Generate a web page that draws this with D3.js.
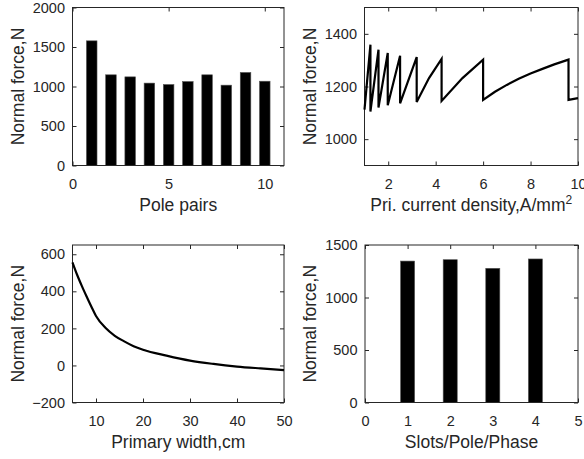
<!DOCTYPE html>
<html>
<head>
<meta charset="utf-8">
<script src="https://cdn.jsdelivr.net/npm/d3@7"></script>
<style>
  body { margin: 0; background: #fff; }
  svg { display: block; font-family: "Liberation Sans", Arial, sans-serif; }
</style>
</head>
<body>
<svg id="fig" width="584" height="459"></svg>
<script>
let axis_color = '#262626';

// (a) pole pairs
let pole_pairs = [1, 2, 3, 4, 5, 6, 7, 8, 9, 10];
let pole_force = [1578, 1148, 1122, 1043, 1025, 1063, 1148, 1017, 1178, 1067];

// (b) primary current density, sawtooth (drops share the same x)
let density_x = [1.0, 1.25, 1.25, 1.59, 1.59, 1.98, 1.98, 2.5, 2.5, 3.2, 3.2, 3.72, 4.25,
  4.25, 5.13, 6.0, 6.0, 6.5, 7.0, 7.5, 8.0, 8.5, 9.0, 9.6, 9.6, 10.0];
let density_force = [1112, 1359, 1105, 1340, 1120, 1327, 1129, 1317, 1136, 1312, 1141, 1232, 1305,
  1145, 1232, 1302, 1149, 1180, 1206, 1229, 1249, 1267, 1284, 1302, 1149, 1156];

// (c) primary width
let width_cm = [5, 6, 7, 8, 9, 10, 12, 14, 16, 18, 20, 25, 30, 35, 40, 45, 50];
let width_force = [556, 488, 428, 372, 318, 267, 203, 160, 130, 104, 85, 53, 26, 8, -6, -16, -25];

// (d) slots per pole per phase
let slots = [1, 2, 3, 4];
let slots_force = [1347, 1360, 1278, 1367];

let svg = d3.select('#fig');
let fmt = d3.format('d');

function make_panel(box, x_domain, y_domain, x_ticks, y_ticks, x_label, y_label) {
  let x = d3.scaleLinear().domain(x_domain).range([box.left, box.right]);
  let y = d3.scaleLinear().domain(y_domain).range([box.bottom, box.top]);
  let g = svg.append('g');

  let tick_font = 14.5;
  // bottom and left with labels, inward ticks
  g.append('g')
    .attr('transform', `translate(0, ${box.bottom})`)
    .call(d3.axisBottom(x).tickValues(x_ticks).tickFormat(fmt)
      .tickSizeInner(-4).tickSizeOuter(0).tickPadding(13.5))
    .call(a => a.select('.domain').remove());
  g.append('g')
    .attr('transform', `translate(${box.left}, 0)`)
    .call(d3.axisLeft(y).tickValues(y_ticks).tickFormat(fmt)
      .tickSizeInner(-4).tickSizeOuter(0).tickPadding(7.5))
    .call(a => a.select('.domain').remove());
  // top and right: ticks only
  g.append('g')
    .attr('transform', `translate(0, ${box.top})`)
    .call(d3.axisTop(x).tickValues(x_ticks).tickSizeInner(-4).tickSizeOuter(0).tickFormat(''))
    .call(a => a.select('.domain').remove());
  g.append('g')
    .attr('transform', `translate(${box.right}, 0)`)
    .call(d3.axisRight(y).tickValues(y_ticks).tickSizeInner(-4).tickSizeOuter(0).tickFormat(''))
    .call(a => a.select('.domain').remove());

  g.selectAll('.tick line').attr('stroke', axis_color);
  g.selectAll('.tick text')
    .attr('fill', axis_color)
    .style('font-size', `${tick_font}px`)
    .style('font-family', '"Liberation Sans", Arial, sans-serif');

  g.append('rect')
    .attr('x', box.left)
    .attr('y', box.top)
    .attr('width', box.right - box.left)
    .attr('height', box.bottom - box.top)
    .attr('fill', 'none')
    .attr('stroke', axis_color)
    .attr('stroke-width', 1);

  let xl = g.append('text')
    .attr('x', (box.left + box.right) / 2)
    .attr('y', box.bottom + 45.5)
    .attr('text-anchor', 'middle')
    .attr('fill', axis_color)
    .style('font-size', '17.5px');
  if (typeof x_label === 'string') {
    xl.text(x_label);
  } else {
    xl.append('tspan').text(x_label[0]);
    xl.append('tspan').attr('dy', -7).style('font-size', '12px').text(x_label[1]);
  }

  g.append('text')
    .attr('transform', `translate(${box.left - 49}, ${(box.top + box.bottom) / 2}) rotate(-90)`)
    .attr('text-anchor', 'middle')
    .attr('fill', axis_color)
    .style('font-size', '17.5px')
    .text(y_label);

  return {x, y, g};
}

function draw_bars(p, xs, ys, bar_w) {
  p.g.insert('g', 'rect').selectAll('rect')
    .data(xs)
    .enter()
    .append('rect')
    .attr('x', (d) => p.x(d - bar_w / 2))
    .attr('width', (d) => p.x(d + bar_w / 2) - p.x(d - bar_w / 2))
    .attr('y', (d, i) => p.y(ys[i]))
    .attr('height', (d, i) => p.y(0) - p.y(ys[i]))
    .attr('fill', '#000')
    .attr('stroke', '#555')
    .attr('stroke-width', 0.6);
}

function draw_line(p, xs, ys, curve) {
  let line = d3.line()
    .curve(curve || d3.curveLinear)
    .x((d) => p.x(d[0]))
    .y((d) => p.y(d[1]));
  p.g.append('path')
    .datum(d3.zip(xs, ys))
    .attr('d', line)
    .attr('fill', 'none')
    .attr('stroke', '#000')
    .attr('stroke-width', 2.2)
    .attr('stroke-linejoin', 'miter');
}

// top-left
let p1 = make_panel({left: 72.5, right: 284, top: 7.5, bottom: 165.5},
  [0, 11], [0, 2000], [0, 5, 10], [0, 500, 1000, 1500, 2000],
  'Pole pairs', 'Normal force,N');
draw_bars(p1, pole_pairs, pole_force, 0.55);

// top-right
let p2 = make_panel({left: 364.5, right: 578, top: 7.5, bottom: 165.5},
  [1, 10], [900, 1500], [2, 4, 6, 8, 10], [1000, 1200, 1400],
  ['Pri. current density,A/mm', '2'], 'Normal force,N');
draw_line(p2, density_x, density_force);

// bottom-left
let p3 = make_panel({left: 72.5, right: 284, top: 245, bottom: 402.5},
  [5, 50], [-200, 650], [10, 20, 30, 40, 50], [-200, 0, 200, 400, 600],
  'Primary width,cm', 'Normal force,N');
draw_line(p3, width_cm, width_force, d3.curveMonotoneX);

// bottom-right
let p4 = make_panel({left: 365, right: 578, top: 245, bottom: 402.5},
  [0, 5], [0, 1500], [0, 1, 2, 3, 4, 5], [0, 500, 1000, 1500],
  'Slots/Pole/Phase', 'Normal force,N');
draw_bars(p4, slots, slots_force, 0.33);
</script>
</body>
</html>
